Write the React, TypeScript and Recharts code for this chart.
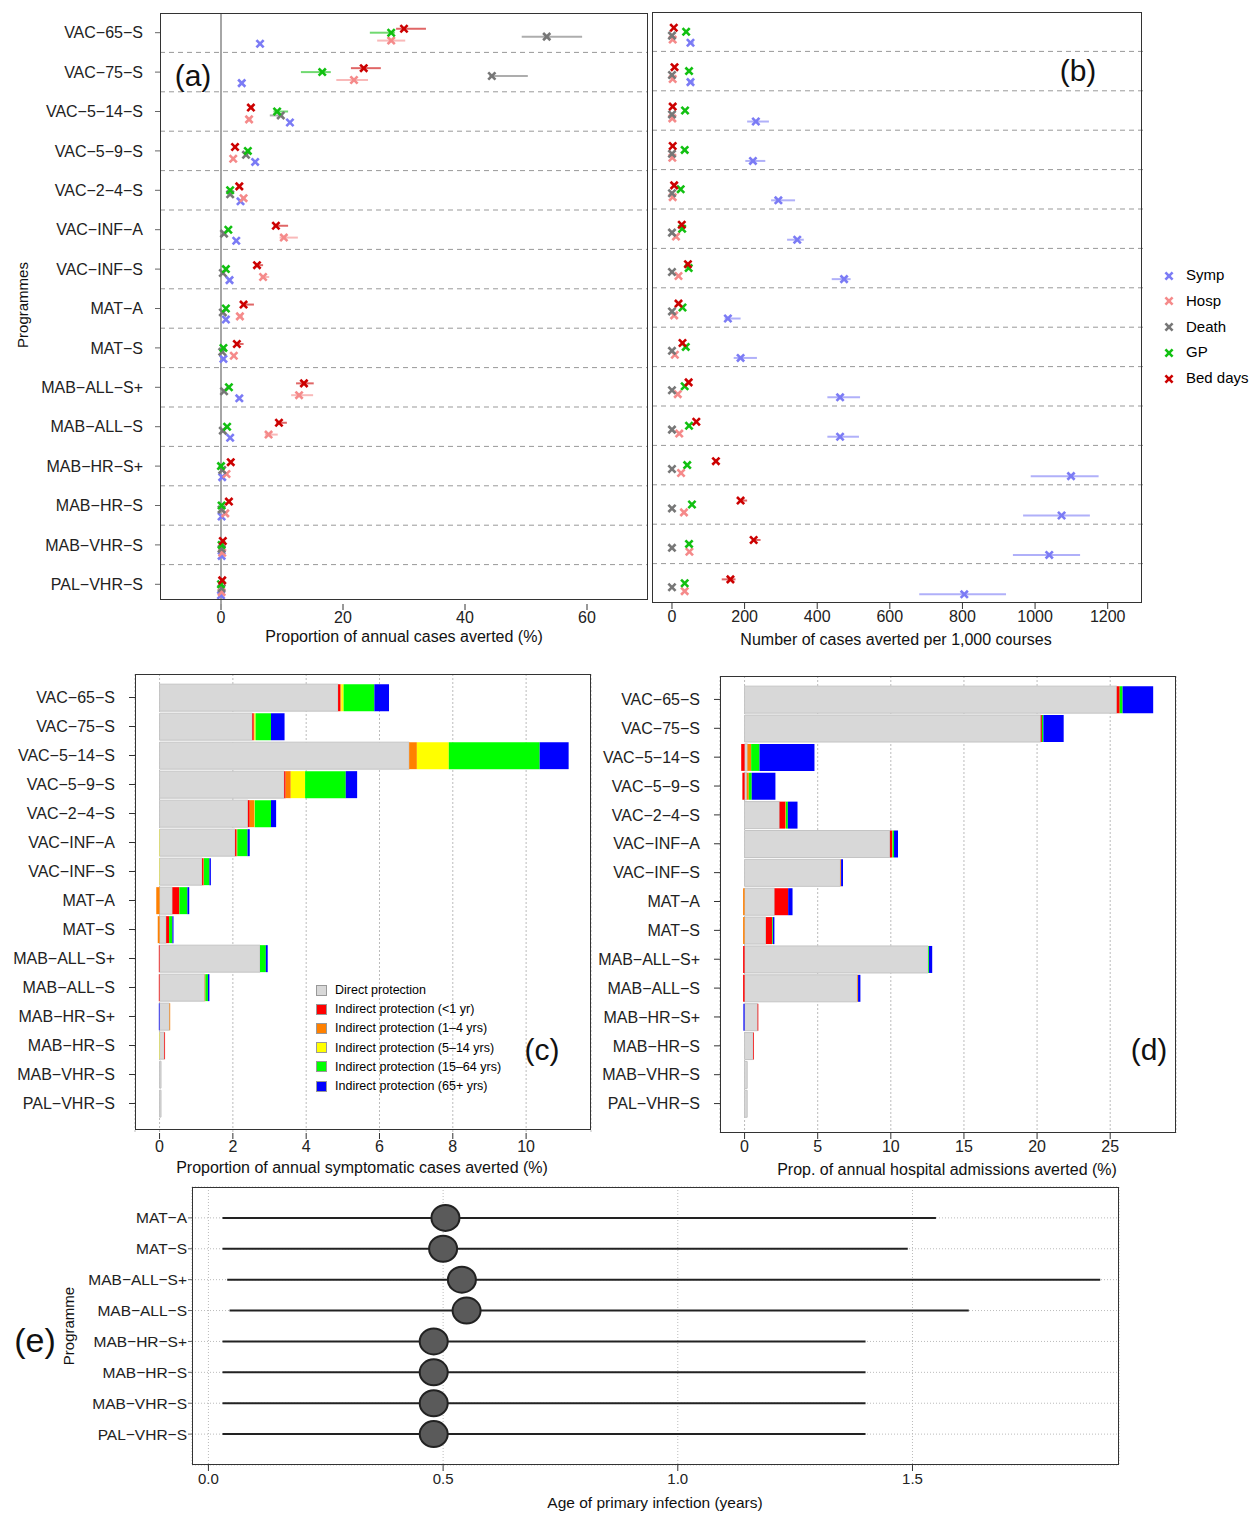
import React from 'react';
import {
  ScatterChart, Scatter, XAxis, YAxis, ErrorBar, ReferenceLine, CartesianGrid,
  BarChart, Bar,
} from 'recharts';

const programmes = [
  'VAC−65−S', 'VAC−75−S', 'VAC−5−14−S', 'VAC−5−9−S', 'VAC−2−4−S', 'VAC−INF−A', 'VAC−INF−S',
  'MAT−A', 'MAT−S', 'MAB−ALL−S+', 'MAB−ALL−S', 'MAB−HR−S+', 'MAB−HR−S', 'MAB−VHR−S', 'PAL−VHR−S',
];

// (a) proportion of annual cases averted (%)
const aSymp = [6.4, 3.4, 11.3, 5.6, 3.2, 2.5, 1.4, 0.8, 0.4, 3.0, 1.5, 0.2, 0.1, 0.1, 0.0];
const aHosp = [27.9, 21.8, 4.6, 2.0, 3.7, 10.3, 6.9, 3.1, 2.1, 12.8, 7.8, 0.9, 0.7, 0.2, 0.1];
const aHospLo = [25.6, 18.9, 4.3, 1.8, 3.4, 9.6, 6.5, 2.8, 1.9, 11.5, 7.2, 0.8, 0.6, 0.2, 0.1];
const aHospHi = [30.2, 24.1, 5.0, 2.2, 4.0, 12.6, 7.9, 3.6, 2.4, 15.1, 9.3, 1.0, 0.8, 0.3, 0.1];
const aDeath = [53.4, 44.4, 9.8, 4.1, 1.5, 0.5, 0.3, 0.3, 0.2, 0.5, 0.3, 0.2, 0.1, 0.1, 0.1];
const aDeathLo = [49.3, 44.0, 8.0, 3.8, 1.3, 0.4, 0.2, 0.2, 0.1, 0.4, 0.2, 0.1, 0.1, 0.1, 0.1];
const aDeathHi = [59.2, 50.3, 10.2, 4.4, 1.7, 0.6, 0.4, 0.4, 0.3, 0.6, 0.4, 0.3, 0.2, 0.1, 0.1];
const aGP = [27.9, 16.6, 9.2, 4.4, 1.5, 1.2, 0.8, 0.8, 0.4, 1.3, 1.0, 0.0, 0.1, 0.1, 0.0];
const aGPLo = [24.4, 13.1, 8.6, 4.1, 1.3, 1.0, 0.7, 0.7, 0.3, 1.1, 0.9, 0.0, 0.0, 0.0, 0.0];
const aGPHi = [28.5, 18.0, 11.0, 4.8, 1.7, 1.4, 0.9, 0.9, 0.5, 1.5, 1.1, 0.1, 0.2, 0.2, 0.1];
const aBed = [30.0, 23.4, 4.9, 2.3, 3.0, 9.0, 5.9, 3.7, 2.6, 13.6, 9.5, 1.6, 1.3, 0.3, 0.2];
const aBedLo = [28.7, 21.3, 4.6, 2.1, 2.8, 8.6, 5.6, 3.4, 2.4, 12.3, 9.0, 1.5, 1.2, 0.2, 0.1];
const aBedHi = [33.6, 26.2, 5.3, 2.5, 3.3, 11.0, 6.9, 5.4, 3.7, 15.2, 10.8, 1.8, 1.5, 0.4, 0.3];

// (b) number of cases averted per 1,000 courses
const bSymp = [51, 51, 231, 223, 293, 345, 474, 154, 189, 463, 463, 1099, 1073, 1039, 805];
const bSympLo = [45, 45, 207, 202, 273, 317, 440, 145, 170, 428, 428, 988, 967, 939, 681];
const bSympHi = [60, 60, 267, 257, 339, 363, 492, 189, 234, 518, 515, 1175, 1151, 1124, 920];
const bHosp = [2, 2, 1, 1, 2, 11, 18, 6, 8, 16, 20, 25, 33, 48, 35];
const bDeath = [0, 0, 0, 0, 0, 0, 0, 0, 0, 0, 0, 0, 0, 0, 0];
const bGP = [39, 47, 36, 35, 24, 28, 46, 29, 38, 35, 47, 42, 55, 47, 35];
const bBed = [5, 7, 2, 2, 6, 27, 44, 18, 29, 46, 67, 121, 189, 225, 161];
const bBedLo = [5, 7, 2, 2, 6, 27, 44, 18, 29, 46, 67, 121, 185, 222, 137];
const bBedHi = [5, 7, 2, 2, 6, 27, 44, 18, 29, 46, 67, 121, 207, 244, 175];

// (c) proportion of annual symptomatic cases averted (%)
const cDirect = [4.87, 2.53, 6.81, 3.40, 2.41, 2.06, 1.16, 0.35, 0.18, 2.74, 1.23, 0.27, 0.13, 0.04, 0.04];
const cLt1 = [0.06, 0.04, 0, 0.04, 0.05, 0.04, 0.04, 0.19, 0.08, -0.02, -0.02, 0, 0.02, 0, 0];
const c1to4 = [0.03, 0.02, 0.21, 0.14, 0.13, 0.02, 0.01, -0.09, -0.05, 0, 0.02, 0.02, 0, 0, 0];
const c5to14 = [0.06, 0.03, 0.87, 0.39, 0.01, -0.01, -0.01, 0, 0, 0, 0, 0, -0.01, 0, 0];
const c15to64 = [0.84, 0.42, 2.48, 1.11, 0.44, 0.28, 0.15, 0.22, 0.09, 0.16, 0.07, 0, 0, 0, 0];
const c65 = [0.40, 0.37, 0.79, 0.31, 0.14, 0.06, 0.04, 0.05, 0.03, 0.05, 0.04, -0.02, 0, 0, 0];

// (d) proportion of annual hospital admissions averted (%)
const dDirect = [25.45, 20.25, 0.2, 0.15, 2.39, 9.94, 6.55, 2.05, 1.46, 12.56, 7.71, 0.89, 0.59, 0.18, 0.18];
const dLt1 = [0.2, 0.08, -0.23, -0.15, 0.39, 0.15, 0, 0.93, 0.43, -0.1, -0.1, 0.05, 0.05, 0, 0];
const d1to4 = [0, 0, 0.25, 0.14, 0.05, 0.03, 0.05, -0.1, -0.1, 0, 0.05, 0, 0, 0, 0];
const d5to14 = [0, 0, 0, 0, 0, 0, 0, 0, 0, 0, 0, 0, 0, 0, 0];
const d15to64 = [0.2, 0.1, 0.57, 0.2, 0.13, 0.1, 0, 0, 0.05, 0.05, 0, 0, 0, 0, 0];
const d65 = [2.09, 1.39, 3.76, 1.62, 0.66, 0.27, 0.13, 0.3, 0.1, 0.22, 0.16, -0.08, 0, 0, 0];

// (e) age of primary infection (years)
const eProgrammes = ['MAT−A', 'MAT−S', 'MAB−ALL−S+', 'MAB−ALL−S', 'MAB−HR−S+', 'MAB−HR−S', 'MAB−VHR−S', 'PAL−VHR−S'];
const eMean = [0.505, 0.50, 0.54, 0.55, 0.48, 0.48, 0.48, 0.48];
const eLo = [0.03, 0.03, 0.04, 0.045, 0.03, 0.03, 0.03, 0.03];
const eHi = [1.55, 1.49, 1.90, 1.62, 1.40, 1.40, 1.40, 1.40];

const FONT = '"Liberation Sans", Arial, sans-serif';
const tickStyle = { fontSize: 16, fill: '#222', fontFamily: FONT };

const seriesStyle = [
  { name: 'Symp', color: '#7b7bf5', off: 0.28 },
  { name: 'Hosp', color: '#f58a8a', off: 0.2 },
  { name: 'Death', color: '#777777', off: 0.1 },
  { name: 'GP', color: '#11c011', off: 0 },
  { name: 'Bed days', color: '#cc0000', off: -0.1 },
];

const makeX = (color: string) => (props: any) => {
  const { cx, cy } = props;
  const s = 3.6;
  return (
    <g stroke={color} strokeWidth={2.6}>
      <line x1={cx - s} y1={cy - s} x2={cx + s} y2={cy + s} />
      <line x1={cx - s} y1={cy + s} x2={cx + s} y2={cy - s} />
    </g>
  );
};

const build = (v: number[], lo?: number[], hi?: number[], off = 0) =>
  v.map((x, i) => ({
    x,
    y: i + off,
    err: [lo ? Math.max(0, x - lo[i]) : 0, hi ? Math.max(0, hi[i] - x) : 0],
  }));

const rowTicks = programmes.map((_, i) => i);
const rowLines = programmes.slice(1).map((_, i) => i + 0.5);

const DotPanel = ({ series, domain, ticks, showY, width, marginLeft, yWidth, zeroLine }: any) => (
  <ScatterChart width={width} height={650} margin={{ top: 12, right: 4, left: marginLeft, bottom: 0 }}>
    <XAxis type="number" dataKey="x" domain={domain} ticks={ticks} allowDataOverflow
      tick={tickStyle} axisLine={false} tickLine={{ stroke: '#333' }} height={47} />
    <YAxis type="number" dataKey="y" domain={[-0.5, 14.5]} reversed ticks={rowTicks}
      hide={!showY} width={yWidth} tick={tickStyle} axisLine={false}
      tickFormatter={(v: number) => programmes[v] ?? ''} tickSize={5} tickMargin={12} interval={0} />
    {rowLines.map((y) => (
      <ReferenceLine key={y} y={y} stroke="#999" strokeDasharray="5 4" />
    ))}
    {zeroLine && <ReferenceLine x={0} stroke="#888" strokeWidth={1.5} />}
    {series.map((s: any, k: number) => (
      <Scatter key={k} data={s.data} shape={makeX(s.color)} isAnimationActive={false}>
        <ErrorBar dataKey="err" direction="x" width={0} stroke={s.color} strokeOpacity={0.6} strokeWidth={2} />
      </Scatter>
    ))}
  </ScatterChart>
);

const stackColors = ['#d8d8d8', '#ff0000', '#ff8000', '#ffff00', '#00ff00', '#0000ff'];
const stackKeys = ['direct', 'lt1', 'a1to4', 'a5to14', 'a15to64', 'a65'];
const stackNames = [
  'Direct protection', 'Indirect protection (<1 yr)', 'Indirect protection (1–4 yrs)',
  'Indirect protection (5–14 yrs)', 'Indirect protection (15–64 yrs)', 'Indirect protection (65+ yrs)',
];

const stackRows = (cols: number[][]) =>
  programmes.map((name, i) => {
    const r: any = { name };
    stackKeys.forEach((k, j) => (r[k] = cols[j][i]));
    return r;
  });

const cRows = stackRows([cDirect, cLt1, c1to4, c5to14, c15to64, c65]);
const dRows = stackRows([dDirect, dLt1, d1to4, d5to14, d15to64, d65]);

const StackPanel = ({ data, width, marginTop, marginLeft, yWidth, domain, ticks }: any) => (
  <BarChart width={width} height={530} data={data} layout="vertical" stackOffset="sign"
    barCategoryGap="4%" margin={{ top: marginTop, right: 9, left: marginLeft, bottom: 10 }}>
    <CartesianGrid horizontal={false} stroke="#bbb" strokeDasharray="2 2" />
    <XAxis type="number" domain={domain} ticks={ticks} allowDataOverflow tick={tickStyle}
      axisLine={false} tickLine={{ stroke: '#333' }} height={47} />
    <YAxis type="category" dataKey="name" width={yWidth} tick={tickStyle} axisLine={false}
      tickLine={{ stroke: '#333' }} tickSize={6} tickMargin={14} interval={0}
      padding={{ top: 9, bottom: 15 }} />
    {stackKeys.map((k, j) => (
      <Bar key={k} dataKey={k} stackId="s" fill={stackColors[j]}
        stroke={j === 0 ? '#c4c4c4' : 'none'} isAnimationActive={false} />
    ))}
  </BarChart>
);

const eData = eMean.map((x, i) => ({ x, y: i, err: [x - eLo[i], eHi[i] - x] }));

const Ellipse = (props: any) => (
  <ellipse cx={props.cx} cy={props.cy} rx={14} ry={13} fill="#5a5a5a" stroke="#222" strokeWidth={2} />
);

const Box = ({ l, t, r, b }: any) => (
  <div style={{ position: 'absolute', left: l, top: t, width: r - l, height: b - t, border: '1.5px solid #333', boxSizing: 'border-box', pointerEvents: 'none' }} />
);

const Txt = ({ x, y, size = 16, children, rotate }: any) => (
  <div style={{
    position: 'absolute', left: x, top: y, fontSize: size, fontFamily: FONT, color: '#111', whiteSpace: 'nowrap',
    transform: `translate(-50%, -50%)${rotate ? ` rotate(${rotate}deg)` : ''}`,
  }}>{children}</div>
);

const at = (left: number, top: number, child: React.ReactNode) => (
  <div style={{ position: 'absolute', left, top }}>{child}</div>
);

export default function App() {
  const aSeries = [
    { ...seriesStyle[0], data: build(aSymp, undefined, undefined, seriesStyle[0].off) },
    { ...seriesStyle[1], data: build(aHosp, aHospLo, aHospHi, seriesStyle[1].off) },
    { ...seriesStyle[2], data: build(aDeath, aDeathLo, aDeathHi, seriesStyle[2].off) },
    { ...seriesStyle[3], data: build(aGP, aGPLo, aGPHi, seriesStyle[3].off) },
    { ...seriesStyle[4], data: build(aBed, aBedLo, aBedHi, seriesStyle[4].off) },
  ];
  const bSeries = [
    { ...seriesStyle[0], data: build(bSymp, bSympLo, bSympHi, seriesStyle[0].off) },
    { ...seriesStyle[1], data: build(bHosp, undefined, undefined, seriesStyle[1].off) },
    { ...seriesStyle[2], data: build(bDeath, undefined, undefined, seriesStyle[2].off) },
    { ...seriesStyle[3], data: build(bGP, undefined, undefined, seriesStyle[3].off) },
    { ...seriesStyle[4], data: build(bBed, bBedLo, bBedHi, seriesStyle[4].off) },
  ];
  return (
    <div style={{ position: 'absolute', left: 0, top: 0, width: 1257, height: 1513, background: '#fff', fontFamily: FONT }}>
      {at(0, 1, <DotPanel series={aSeries} domain={[-10, 70]} ticks={[0, 20, 40, 60]} showY width={652} marginLeft={30} yWidth={130} zeroLine />)}
      <Box l={160} t={13} r={648} b={600} />
      <Txt x={22} y={305} rotate={-90} size={15}>Programmes</Txt>
      <Txt x={193} y={76} size={30}>(a)</Txt>
      <Txt x={404} y={637}>Proportion of annual cases averted (%)</Txt>

      {at(648, 0, <DotPanel series={bSeries} domain={[-55, 1300]} ticks={[0, 200, 400, 600, 800, 1000, 1200]} showY={false} width={500} marginLeft={4} yWidth={0} />)}
      <Box l={652} t={12} r={1142} b={603} />
      <Txt x={1078} y={71} size={30}>(b)</Txt>
      <Txt x={896} y={640}>Number of cases averted per 1,000 courses</Txt>
      {seriesStyle.map((s, i) => (
        <div key={s.name} style={{ position: 'absolute', left: 1162, top: 266 + i * 25.8, display: 'flex', alignItems: 'center', fontSize: 15, fontFamily: FONT }}>
          <svg width={14} height={14}>{makeX(s.color)({ cx: 7, cy: 8 })}</svg>
          <span style={{ marginLeft: 10 }}>{s.name}</span>
        </div>
      ))}

      {at(0, 660, <StackPanel data={cRows} width={600} marginTop={14} marginLeft={10} yWidth={125} domain={[-0.67, 11.77]} ticks={[0, 2, 4, 6, 8, 10]} />)}
      <Box l={135} t={674} r={591} b={1130} />
      <Txt x={362} y={1168}>Proportion of annual symptomatic cases averted (%)</Txt>
      <Txt x={542} y={1050} size={30}>(c)</Txt>
      {stackNames.map((n, i) => (
        <div key={n} style={{ position: 'absolute', left: 316, top: 983 + i * 19.2, display: 'flex', alignItems: 'center', fontSize: 12.5, fontFamily: FONT }}>
          <div style={{ width: 9, height: 9, background: stackColors[i], border: '1px solid #999' }} />
          <span style={{ marginLeft: 8 }}>{n}</span>
        </div>
      ))}

      {at(592, 660, <StackPanel data={dRows} width={593} marginTop={16} marginLeft={8} yWidth={120} domain={[-1.68, 29.5]} ticks={[0, 5, 10, 15, 20, 25]} />)}
      <Box l={720} t={676} r={1176} b={1133} />
      <Txt x={947} y={1170}>Prop. of annual hospital admissions averted (%)</Txt>
      <Txt x={1149} y={1050} size={30}>(d)</Txt>

      {at(0, 1180,
        <ScatterChart width={1130} height={333} margin={{ top: 7, right: 11, left: 62, bottom: 8 }}>
          <CartesianGrid stroke="#bbb" strokeDasharray="1 2" />
          <XAxis type="number" dataKey="x" domain={[-0.035, 1.94]} ticks={[0, 0.5, 1, 1.5]} allowDataOverflow
            tickFormatter={(v: number) => v.toFixed(1)} tick={{ ...tickStyle, fontSize: 15 }}
            axisLine={false} tickLine={{ stroke: '#333' }} height={40} />
          <YAxis type="number" dataKey="y" domain={[-1, 8]} reversed ticks={eProgrammes.map((_, i) => i)}
            width={130} tick={{ ...tickStyle, fontSize: 15.5 }} axisLine={false} tickSize={4} tickMargin={1} interval={0}
            tickFormatter={(v: number) => eProgrammes[v] ?? ''} />
          <Scatter data={eData} shape={Ellipse} isAnimationActive={false}>
            <ErrorBar dataKey="err" direction="x" width={0} stroke="#222" strokeWidth={2} />
          </Scatter>
        </ScatterChart>
      )}
      <Box l={192} t={1187} r={1119} b={1465} />
      <Txt x={68} y={1326} rotate={-90} size={15}>Programme</Txt>
      <Txt x={35} y={1340} size={34}>(e)</Txt>
      <Txt x={655} y={1503} size={15.5}>Age of primary infection (years)</Txt>
    </div>
  );
}
